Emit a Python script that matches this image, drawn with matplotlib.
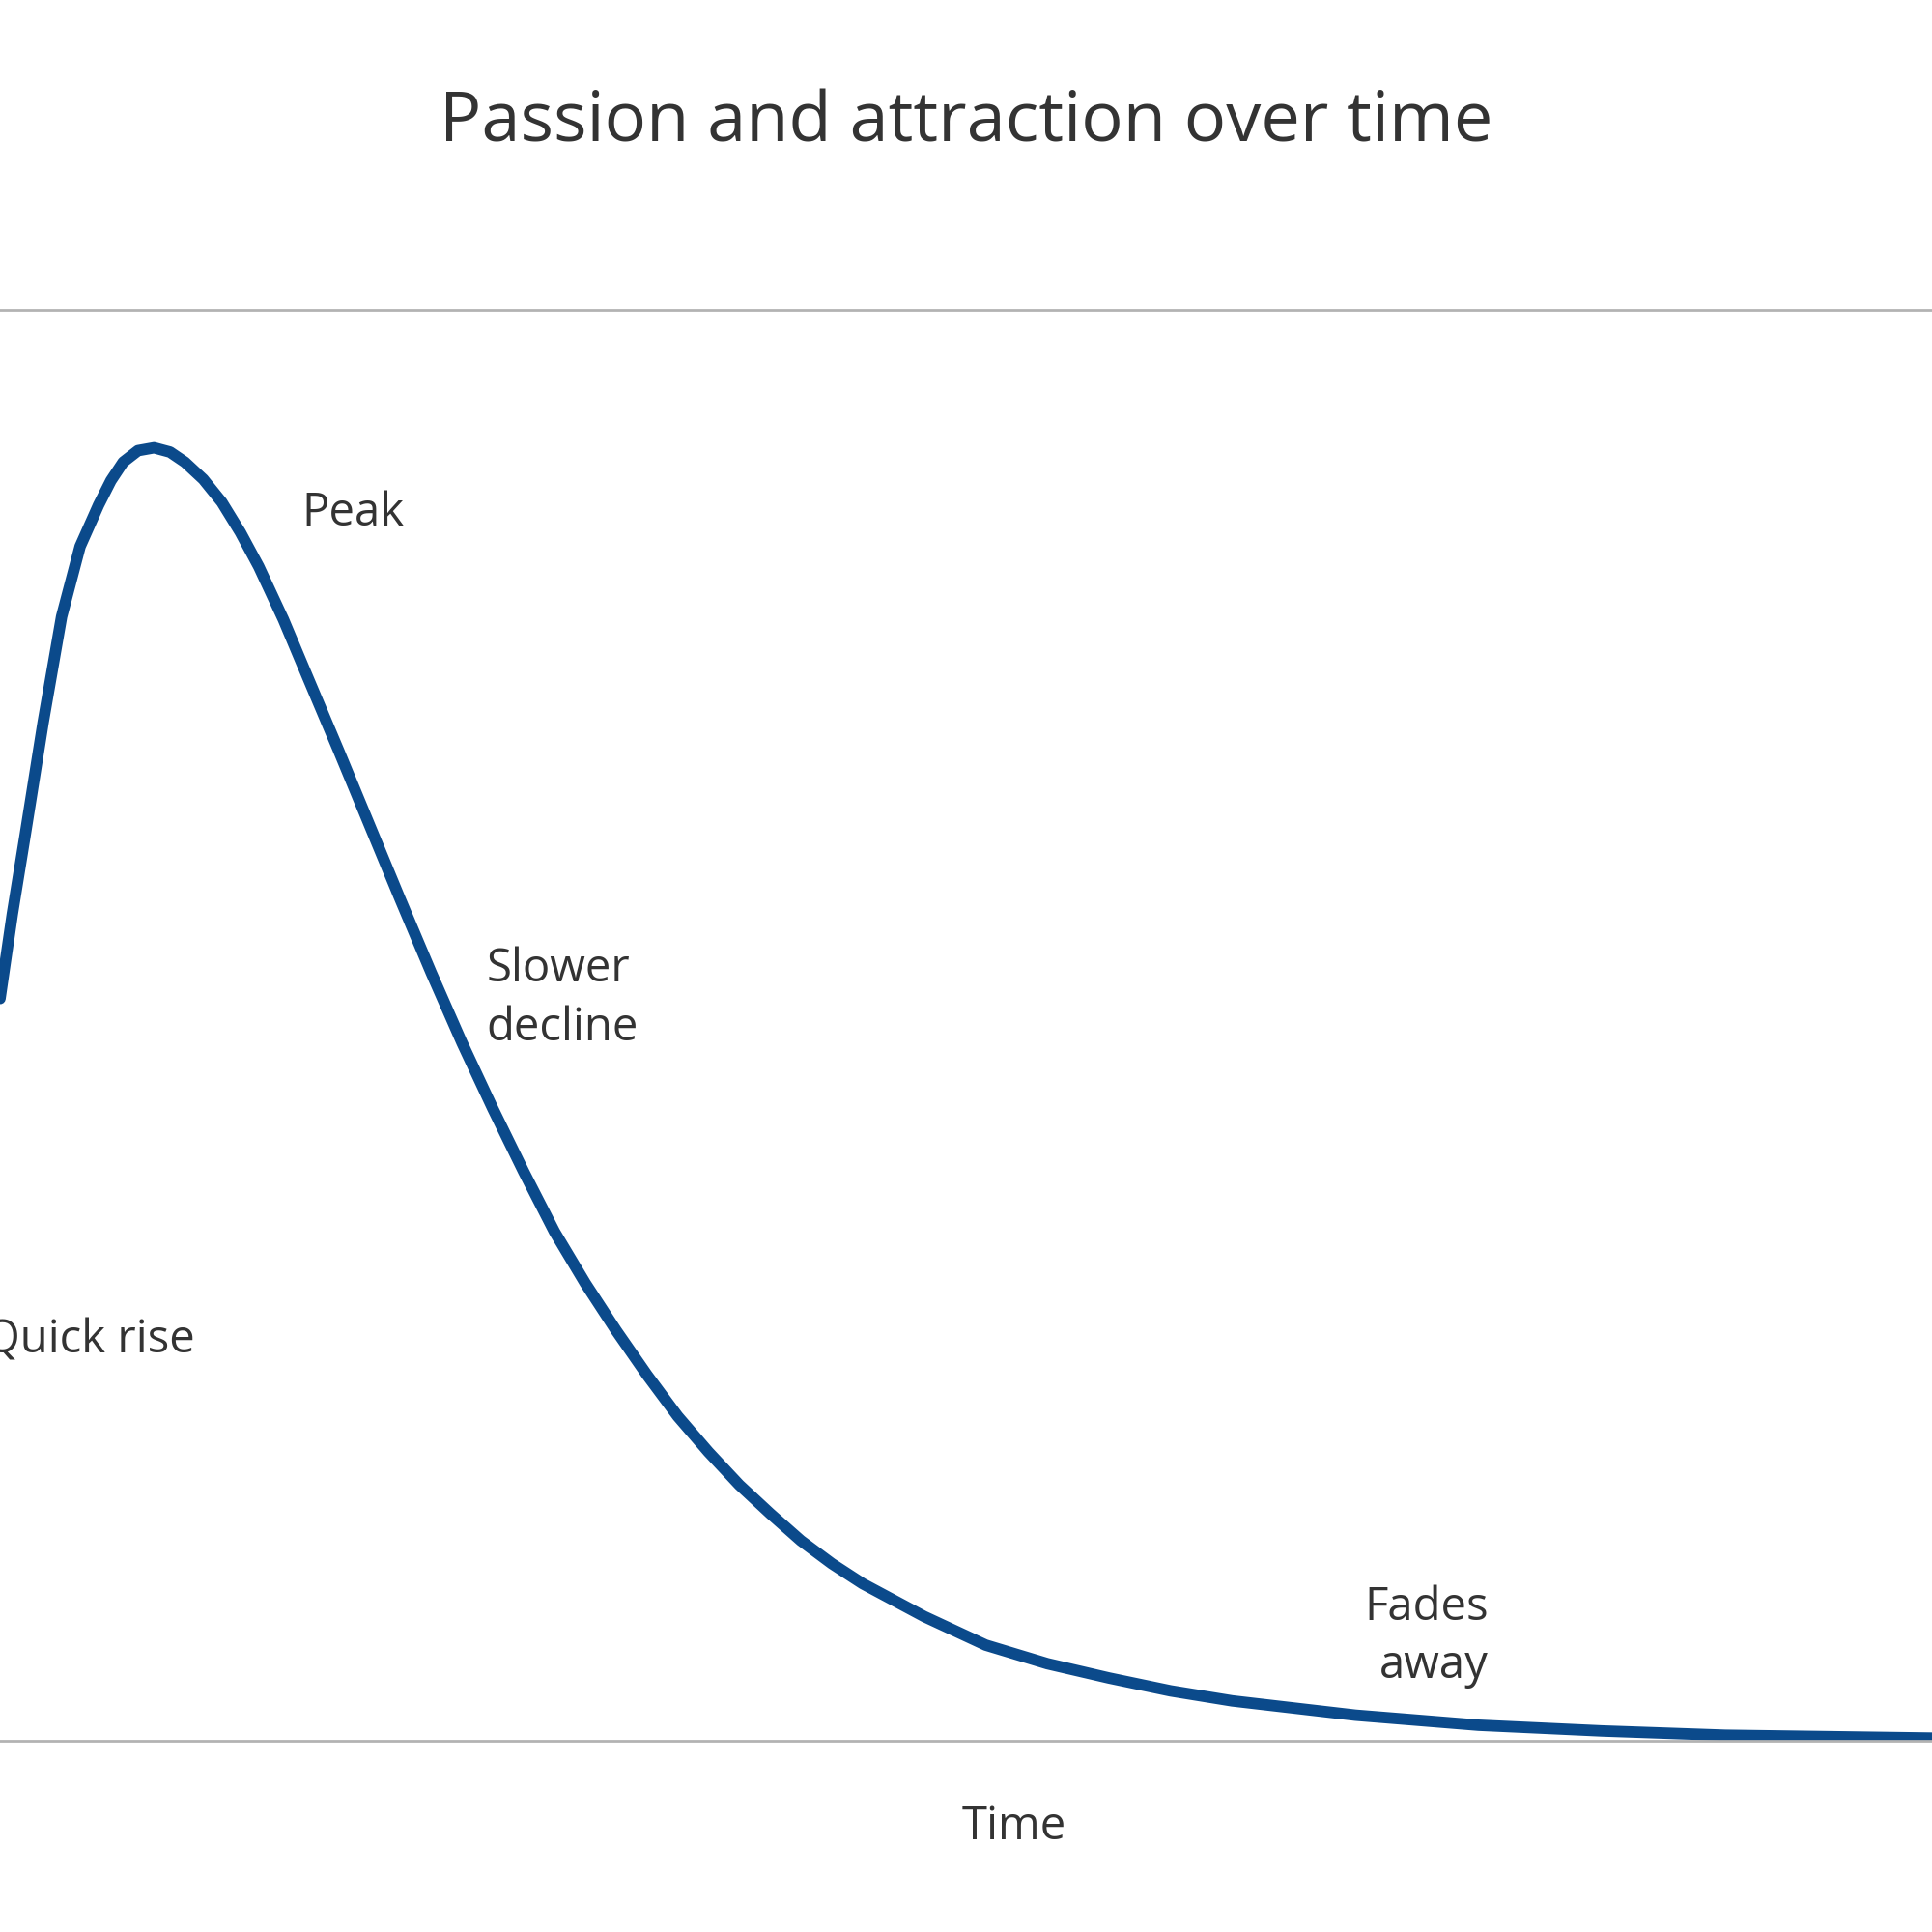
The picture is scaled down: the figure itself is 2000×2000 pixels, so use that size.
import matplotlib
matplotlib.use("Agg")
import matplotlib.pyplot as plt

time = [0, 10, 20, 35, 50, 65, 80, 90, 100, 112, 125, 138, 150, 165, 180, 195, 210, 230, 250, 275, 300, 325, 350, 375, 400, 425, 450, 475, 500, 525, 550, 575, 600, 625, 650, 675, 700, 750, 800, 850, 900, 950, 1000, 1100, 1200, 1300, 1400, 1568]
passion = [0.519, 0.578, 0.631, 0.712, 0.786, 0.835, 0.864, 0.881, 0.894, 0.902, 0.904, 0.901, 0.894, 0.882, 0.866, 0.845, 0.821, 0.784, 0.743, 0.692, 0.640, 0.588, 0.537, 0.488, 0.442, 0.398, 0.356, 0.320, 0.287, 0.256, 0.227, 0.202, 0.179, 0.159, 0.140, 0.124, 0.110, 0.087, 0.067, 0.054, 0.044, 0.035, 0.028, 0.018, 0.011, 0.007, 0.004, 0.002]
labels = ["Peak", "Slower\ndecline", "Quick rise", "Fades\naway"]
label_x = [245, 395, 158, 1208]
label_y = [0.858, 0.519, 0.28, 0.073]
label_ha = ["left", "left", "right", "right"]

plt.rcParams['font.family'] = ['Open Sans', 'DejaVu Sans']
fig = plt.figure(figsize=(20, 20), dpi=100)
ax = fig.add_axes([0, 0.0989, 1, 0.7404])
ax.plot(time, passion, color="#0b4a8b", lw=8.5, solid_capstyle="round", solid_joinstyle="round")
ax.set_xlim(0, 1568)
ax.set_ylim(0, 1)
ax.set_xticks([]); ax.set_yticks([])
for s in ["left", "right"]:
    ax.spines[s].set_visible(False)
ax.spines["top"].set_color("#b3b3b3"); ax.spines["top"].set_linewidth(2)
ax.spines["bottom"].set_color("#b3b3b3"); ax.spines["bottom"].set_linewidth(2)
for t, x, y, ha in zip(labels, label_x, label_y, label_ha):
    ax.text(x, y, t, fontsize=34, color="#333333", ha=ha, va="center",
            multialignment=ha, linespacing=1.35)
fig.text(823/1568, 1 - 1483/1568, "Time", fontsize=34, color="#333333", ha="center", va="center")
fig.text(784/1568, 1 - 100/1568, "Passion and attraction over time", fontsize=52, color="#333333", ha="center", va="center")
fig.savefig("out.png", dpi=100, facecolor="white")
